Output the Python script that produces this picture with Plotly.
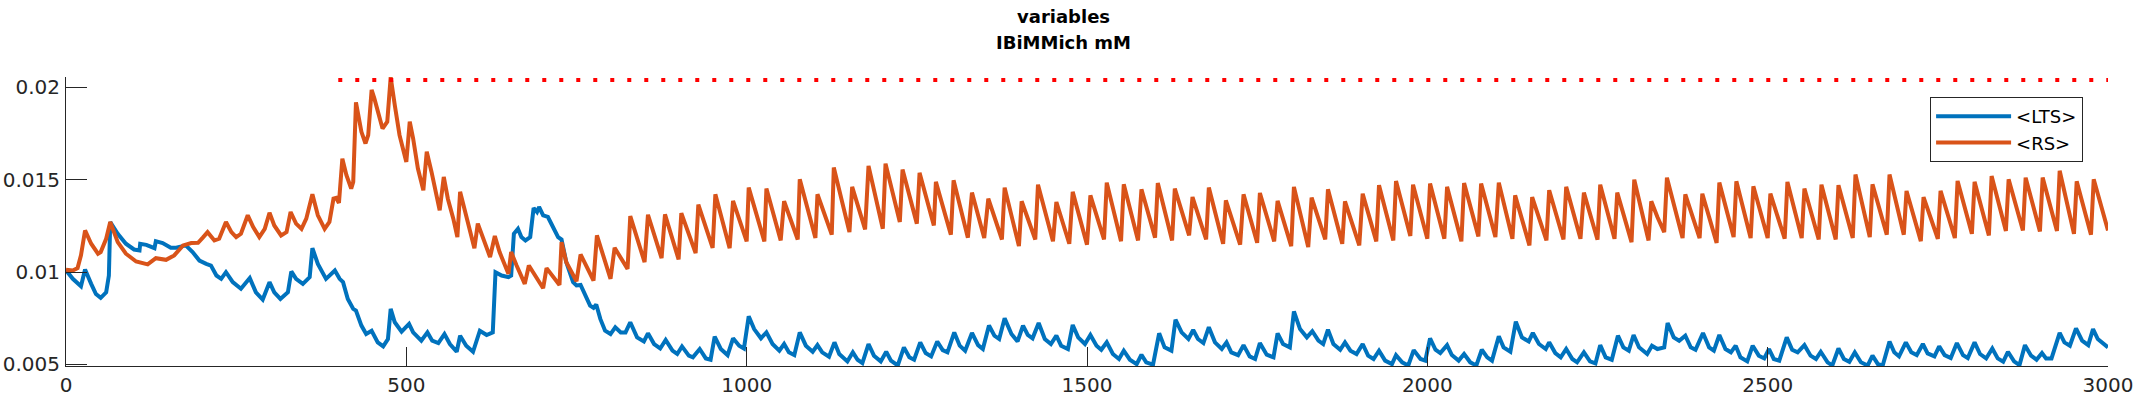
import plotly.graph_objects as go

# time axis (ms) and mean variable per population
lts_t = [0, 10, 22, 28, 37, 44, 51, 59, 63, 65, 76, 88, 100, 108, 109, 118, 130, 132, 142, 154,
         162, 176, 186, 196, 206, 213, 221, 228, 235, 245, 257, 270, 279, 289, 299, 306, 315, 326, 331, 338,
         348, 358, 362, 370, 382, 395, 402, 407, 414, 422, 426, 434, 441, 449, 458, 466, 473, 477, 483, 493,
         504, 510, 522, 531, 538, 547, 556, 564, 574, 579, 588, 598, 608, 618, 627, 631, 640, 650, 654, 658,
         664, 669, 675, 682, 687, 692, 695, 701, 708, 716, 723, 728, 735, 745, 750, 756, 763, 770, 775, 779,
         785, 792, 800, 807, 815, 822, 829, 839, 849, 855, 864, 873, 881, 891, 898, 905, 915, 921, 931, 940,
         947, 953, 962, 972, 980, 989, 996, 1003, 1011, 1021, 1029, 1038, 1048, 1055, 1062, 1070, 1078, 1087, 1097, 1104,
         1111, 1121, 1129, 1136, 1148, 1156, 1163, 1170, 1179, 1187, 1197, 1205, 1212, 1222, 1231, 1239, 1246, 1255, 1263, 1271,
         1280, 1288, 1295, 1305, 1313, 1321, 1331, 1340, 1347, 1356, 1364, 1371, 1379, 1389, 1398, 1406, 1413, 1420, 1429, 1438,
         1447, 1455, 1462, 1472, 1479, 1487, 1497, 1505, 1514, 1521, 1529, 1538, 1547, 1554, 1563, 1573, 1580, 1587, 1597, 1606,
         1614, 1624, 1630, 1639, 1649, 1656, 1663, 1671, 1679, 1688, 1698, 1705, 1712, 1722, 1730, 1739, 1747, 1754, 1764, 1774,
         1780, 1788, 1798, 1804, 1813, 1823, 1831, 1840, 1847, 1854, 1862, 1872, 1879, 1887, 1896, 1905, 1913, 1921, 1929, 1938,
         1948, 1954, 1963, 1972, 1980, 1990, 1997, 2004, 2012, 2019, 2029, 2036, 2046, 2054, 2063, 2072, 2080, 2088, 2095, 2105,
         2112, 2122, 2130, 2139, 2149, 2155, 2164, 2174, 2179, 2188, 2196, 2204, 2213, 2220, 2230, 2239, 2247, 2254, 2262, 2271,
         2280, 2288, 2296, 2303, 2311, 2323, 2330, 2338, 2348, 2353, 2362, 2370, 2379, 2387, 2394, 2405, 2414, 2421, 2429, 2438,
         2446, 2453, 2460, 2470, 2478, 2487, 2495, 2502, 2509, 2517, 2528, 2536, 2544, 2554, 2563, 2571, 2578, 2588, 2595, 2604,
         2612, 2620, 2628, 2637, 2647, 2654, 2662, 2669, 2679, 2686, 2693, 2703, 2711, 2719, 2728, 2735, 2745, 2752, 2760, 2769,
         2778, 2787, 2794, 2804, 2812, 2821, 2830, 2838, 2846, 2853, 2862, 2870, 2878, 2887, 2895, 2903, 2909, 2917, 2929, 2936,
         2944, 2953, 2962, 2971, 2978, 2985, 3000]
lts_v = [0.01010, 0.00963, 0.00923, 0.01014, 0.00936, 0.00881, 0.00860, 0.00890, 0.00981, 0.01271,
         0.01207, 0.01153, 0.01122, 0.01117, 0.01153, 0.01147, 0.01129, 0.01167, 0.01157, 0.01131,
         0.01131, 0.01144, 0.01108, 0.01062, 0.01044, 0.01035, 0.00981, 0.00963, 0.00999, 0.00945,
         0.00909, 0.00967, 0.00890, 0.00851, 0.00945, 0.00890, 0.00854, 0.00890, 0.01003, 0.00963,
         0.00936, 0.00972, 0.01129, 0.01044, 0.00963, 0.01008, 0.00963, 0.00945, 0.00854, 0.00800,
         0.00791, 0.00710, 0.00664, 0.00682, 0.00619, 0.00597, 0.00637, 0.00800, 0.00728, 0.00677,
         0.00719, 0.00673, 0.00628, 0.00673, 0.00628, 0.00615, 0.00664, 0.00610, 0.00568, 0.00655,
         0.00601, 0.00568, 0.00682, 0.00659, 0.00673, 0.00999, 0.00981, 0.00972, 0.00981, 0.01207,
         0.01234, 0.01189, 0.01171, 0.01189, 0.01347, 0.01325, 0.01352, 0.01307, 0.01298, 0.01243,
         0.01189, 0.01176, 0.01053, 0.00945, 0.00927, 0.00930, 0.00872, 0.00818, 0.00806, 0.00824,
         0.00746, 0.00682, 0.00664, 0.00701, 0.00673, 0.00673, 0.00728, 0.00646, 0.00624, 0.00668,
         0.00610, 0.00586, 0.00632, 0.00574, 0.00556, 0.00597, 0.00547, 0.00538, 0.00583, 0.00532,
         0.00525, 0.00650, 0.00583, 0.00550, 0.00641, 0.00601, 0.00586, 0.00760, 0.00691, 0.00641,
         0.00673, 0.00610, 0.00574, 0.00610, 0.00565, 0.00550, 0.00673, 0.00601, 0.00568, 0.00604,
         0.00565, 0.00541, 0.00619, 0.00556, 0.00516, 0.00565, 0.00525, 0.00507, 0.00610, 0.00547,
         0.00516, 0.00568, 0.00520, 0.00494, 0.00592, 0.00538, 0.00525, 0.00619, 0.00561, 0.00543,
         0.00624, 0.00577, 0.00565, 0.00673, 0.00601, 0.00574, 0.00670, 0.00604, 0.00583, 0.00710,
         0.00655, 0.00637, 0.00749, 0.00664, 0.00624, 0.00710, 0.00659, 0.00641, 0.00724, 0.00637,
         0.00610, 0.00655, 0.00601, 0.00583, 0.00713, 0.00646, 0.00610, 0.00659, 0.00601, 0.00579,
         0.00619, 0.00556, 0.00529, 0.00574, 0.00525, 0.00501, 0.00552, 0.00511, 0.00498, 0.00668,
         0.00592, 0.00574, 0.00742, 0.00673, 0.00637, 0.00686, 0.00637, 0.00615, 0.00701, 0.00619,
         0.00583, 0.00619, 0.00565, 0.00550, 0.00604, 0.00543, 0.00529, 0.00615, 0.00552, 0.00538,
         0.00668, 0.00610, 0.00592, 0.00786, 0.00691, 0.00646, 0.00679, 0.00628, 0.00610, 0.00688,
         0.00610, 0.00579, 0.00619, 0.00574, 0.00556, 0.00610, 0.00547, 0.00529, 0.00574, 0.00520,
         0.00501, 0.00550, 0.00511, 0.00494, 0.00577, 0.00529, 0.00520, 0.00641, 0.00579, 0.00561,
         0.00604, 0.00550, 0.00520, 0.00556, 0.00511, 0.00494, 0.00579, 0.00538, 0.00520, 0.00652,
         0.00592, 0.00568, 0.00731, 0.00646, 0.00624, 0.00670, 0.00610, 0.00583, 0.00619, 0.00561,
         0.00538, 0.00583, 0.00529, 0.00511, 0.00565, 0.00516, 0.00505, 0.00604, 0.00538, 0.00525,
         0.00655, 0.00592, 0.00574, 0.00659, 0.00592, 0.00556, 0.00601, 0.00583, 0.00592, 0.00724,
         0.00646, 0.00628, 0.00655, 0.00592, 0.00579, 0.00670, 0.00592, 0.00574, 0.00659, 0.00583,
         0.00565, 0.00601, 0.00538, 0.00516, 0.00601, 0.00547, 0.00532, 0.00583, 0.00529, 0.00520,
         0.00646, 0.00579, 0.00565, 0.00604, 0.00547, 0.00529, 0.00568, 0.00511, 0.00494, 0.00586,
         0.00529, 0.00514, 0.00565, 0.00511, 0.00494, 0.00547, 0.00501, 0.00494, 0.00623, 0.00565,
         0.00543, 0.00619, 0.00565, 0.00550, 0.00610, 0.00559, 0.00543, 0.00597, 0.00550, 0.00534,
         0.00615, 0.00550, 0.00534, 0.00619, 0.00556, 0.00532, 0.00586, 0.00532, 0.00514, 0.00568,
         0.00516, 0.00496, 0.00604, 0.00547, 0.00525, 0.00561, 0.00532, 0.00532, 0.00670, 0.00619,
         0.00601, 0.00695, 0.00628, 0.00604, 0.00691, 0.00637, 0.00592]

rs_t = [0, 10, 17, 22, 28, 37, 47, 51, 59, 65, 76, 88, 103, 120, 132, 147, 159, 172, 184, 194,
        201, 208, 218, 225, 235, 243, 250, 257, 267, 275, 284, 292, 299, 306, 316, 324, 330, 338, 346, 353,
        362, 370, 380, 387, 393, 397, 401, 406, 412, 419, 422, 426, 434, 440, 444, 449, 453, 458, 465, 472,
        477, 483, 490, 500, 505, 510, 517, 525, 530, 537, 544, 549, 555, 561, 569, 575, 579, 586, 593, 600,
        605, 613, 623, 630, 637, 650, 654, 662, 674, 680, 686, 701, 706, 715, 725, 728, 735, 750, 756, 775,
        780, 800, 806, 825, 829, 850, 855, 875, 880, 900, 904, 925, 929, 950, 954, 975, 980, 1000, 1003, 1026,
        1029, 1050, 1055, 1075, 1078, 1101, 1104, 1125, 1128, 1151, 1155, 1174, 1179, 1200, 1204, 1225, 1229, 1250, 1254, 1275,
        1278, 1300, 1304, 1325, 1331, 1349, 1355, 1375, 1379, 1400, 1404, 1424, 1428, 1450, 1455, 1474, 1479, 1500, 1505, 1525,
        1529, 1550, 1554, 1575, 1580, 1600, 1604, 1625, 1629, 1650, 1655, 1675, 1679, 1700, 1704, 1725, 1730, 1750, 1754, 1775,
        1780, 1800, 1804, 1825, 1830, 1850, 1854, 1875, 1879, 1900, 1905, 1925, 1929, 1950, 1954, 1975, 1979, 2000, 2004, 2025,
        2029, 2050, 2054, 2075, 2079, 2100, 2105, 2125, 2129, 2150, 2154, 2175, 2179, 2200, 2204, 2225, 2230, 2250, 2254, 2275,
        2279, 2300, 2304, 2325, 2329, 2338, 2348, 2352, 2375, 2379, 2400, 2404, 2425, 2429, 2450, 2454, 2475, 2479, 2500, 2504,
        2525, 2529, 2550, 2554, 2575, 2579, 2600, 2604, 2625, 2629, 2650, 2654, 2675, 2679, 2700, 2704, 2725, 2729, 2750, 2754,
        2775, 2779, 2800, 2804, 2825, 2829, 2850, 2854, 2875, 2879, 2900, 2904, 2925, 2929, 2950, 2954, 2975, 2979, 3000]
rs_v = [0.01012, 0.01008, 0.01021, 0.01090, 0.01225, 0.01153, 0.01099, 0.01108, 0.01180, 0.01271,
        0.01162, 0.01099, 0.01057, 0.01041, 0.01075, 0.01066, 0.01090, 0.01144, 0.01157, 0.01158,
        0.01186, 0.01216, 0.01171, 0.01180, 0.01271, 0.01216, 0.01189, 0.01207, 0.01307, 0.01243,
        0.01189, 0.01234, 0.01321, 0.01252, 0.01198, 0.01216, 0.01325, 0.01262, 0.01234, 0.01289,
        0.01421, 0.01307, 0.01234, 0.01271, 0.01397, 0.01401, 0.01374, 0.01614, 0.01524, 0.01452,
        0.01488, 0.01919, 0.01759, 0.01696, 0.01741, 0.01986, 0.01940, 0.01868, 0.01777, 0.01814,
        0.02055, 0.01904, 0.01741, 0.01596, 0.01814, 0.01723, 0.01560, 0.01443, 0.01651, 0.01542,
        0.01415, 0.01334, 0.01515, 0.01397, 0.01289, 0.01189, 0.01434, 0.01325, 0.01216, 0.01129,
        0.01262, 0.01180, 0.01081, 0.01195, 0.01108, 0.00990, 0.01108, 0.01035, 0.00936, 0.01035,
        0.00999, 0.00912, 0.01021, 0.00981, 0.00930, 0.01162, 0.01053, 0.00950, 0.01095, 0.00954,
        0.01198, 0.00963, 0.01131, 0.01017, 0.01303, 0.01053, 0.01310, 0.01075, 0.01312, 0.01068,
        0.01319, 0.01102, 0.01365, 0.01131, 0.01421, 0.01129, 0.01385, 0.01166, 0.01457, 0.01166,
        0.01452, 0.01171, 0.01383, 0.01176, 0.01502, 0.01184, 0.01421, 0.01202, 0.01566, 0.01216,
        0.01461, 0.01231, 0.01575, 0.01234, 0.01587, 0.01271, 0.01555, 0.01262, 0.01537, 0.01252,
        0.01488, 0.01202, 0.01497, 0.01186, 0.01430, 0.01184, 0.01397, 0.01176, 0.01457, 0.01140,
        0.01383, 0.01176, 0.01473, 0.01166, 0.01379, 0.01153, 0.01434, 0.01148, 0.01415, 0.01176,
        0.01484, 0.01167, 0.01475, 0.01171, 0.01448, 0.01186, 0.01482, 0.01171, 0.01452, 0.01198,
        0.01406, 0.01176, 0.01457, 0.01153, 0.01388, 0.01148, 0.01421, 0.01158, 0.01428, 0.01166,
        0.01385, 0.01140, 0.01461, 0.01135, 0.01403, 0.01176, 0.01448, 0.01153, 0.01383, 0.01144,
        0.01424, 0.01166, 0.01470, 0.01171, 0.01493, 0.01195, 0.01473, 0.01180, 0.01479, 0.01180,
        0.01461, 0.01166, 0.01482, 0.01193, 0.01479, 0.01189, 0.01484, 0.01180, 0.01415, 0.01144,
        0.01406, 0.01171, 0.01443, 0.01176, 0.01461, 0.01180, 0.01430, 0.01175, 0.01473, 0.01180,
        0.01430, 0.01162, 0.01500, 0.01171, 0.01383, 0.01298, 0.01216, 0.01511, 0.01184, 0.01421,
        0.01184, 0.01424, 0.01158, 0.01484, 0.01189, 0.01491, 0.01184, 0.01464, 0.01184, 0.01424,
        0.01180, 0.01488, 0.01184, 0.01452, 0.01176, 0.01473, 0.01176, 0.01470, 0.01184, 0.01528,
        0.01189, 0.01475, 0.01202, 0.01528, 0.01202, 0.01439, 0.01167, 0.01406, 0.01180, 0.01439,
        0.01184, 0.01493, 0.01207, 0.01488, 0.01198, 0.01520, 0.01222, 0.01502, 0.01225, 0.01511,
        0.01220, 0.01511, 0.01222, 0.01548, 0.01207, 0.01491, 0.01202, 0.01502, 0.01225]

# dotted reference level
ref_t = [400, 3000]
ref_v = [0.0204, 0.0204]

ytick_vals = [0.005, 0.01, 0.015, 0.02]
ytick_text = ['0.005', '0.01', '0.015', '0.02']
xtick_vals = [0, 500, 1000, 1500, 2000, 2500, 3000]

axis_col = '#262626'
fnt = 'DejaVu Sans'

fig = go.Figure()
fig.add_trace(go.Scatter(x=lts_t, y=lts_v, mode='lines', name='&lt;LTS&gt;',
                         line=dict(color='#0072BD', width=4)))
fig.add_trace(go.Scatter(x=rs_t, y=rs_v, mode='lines', name='&lt;RS&gt;',
                         line=dict(color='#D95319', width=4)))
fig.add_trace(go.Scatter(x=ref_t, y=ref_v, mode='lines', showlegend=False,
                         line=dict(color='#FF0000', width=4, dash='4px,13px')))

# two-line bold title
fig.add_annotation(text='<b>variables</b>', xref='paper', yref='paper', x=0.4886, y=1.209,
                   xanchor='center', yanchor='middle', showarrow=False,
                   font=dict(family=fnt, size=18, color='#000000'))
fig.add_annotation(text='<b>IBiMMich mM</b>', xref='paper', yref='paper', x=0.4886, y=1.118,
                   xanchor='center', yanchor='middle', showarrow=False,
                   font=dict(family=fnt, size=18, color='#000000'))

fig.update_xaxes(range=[0, 3000], tickvals=xtick_vals, ticks='inside', ticklen=19,
                 tickcolor=axis_col, showline=True, linecolor=axis_col, linewidth=1,
                 showgrid=False, zeroline=False, mirror=False, ticklabelstandoff=1,
                 automargin=False, ticklabeloverflow='allow',
                 tickfont=dict(family=fnt, size=20, color=axis_col))
fig.update_yaxes(range=[0.00491, 0.02056], tickvals=ytick_vals, ticktext=ytick_text,
                 ticks='inside', ticklen=21, tickcolor=axis_col, showline=True,
                 linecolor=axis_col, linewidth=1, showgrid=False, zeroline=False,
                 mirror=False, ticklabelstandoff=1, automargin=False,
                 ticklabeloverflow='allow',
                 tickfont=dict(family=fnt, size=20, color=axis_col))

fig.update_layout(width=2133, height=400, paper_bgcolor='white', plot_bgcolor='white',
                  margin=dict(l=66, r=25, t=77, b=34),
                  legend=dict(x=0.9878, y=0.9308, xanchor='right', yanchor='top',
                              bgcolor='white', bordercolor=axis_col, borderwidth=1,
                              font=dict(family=fnt, size=18, color='#000000'),
                              itemwidth=75, tracegroupgap=0),
                  showlegend=True)

# drop the default page margin so the figure sits at the window's corner
fig.write_html('out.html', config={'displayModeBar': False},
               post_script="document.body.style.margin='0px';")
